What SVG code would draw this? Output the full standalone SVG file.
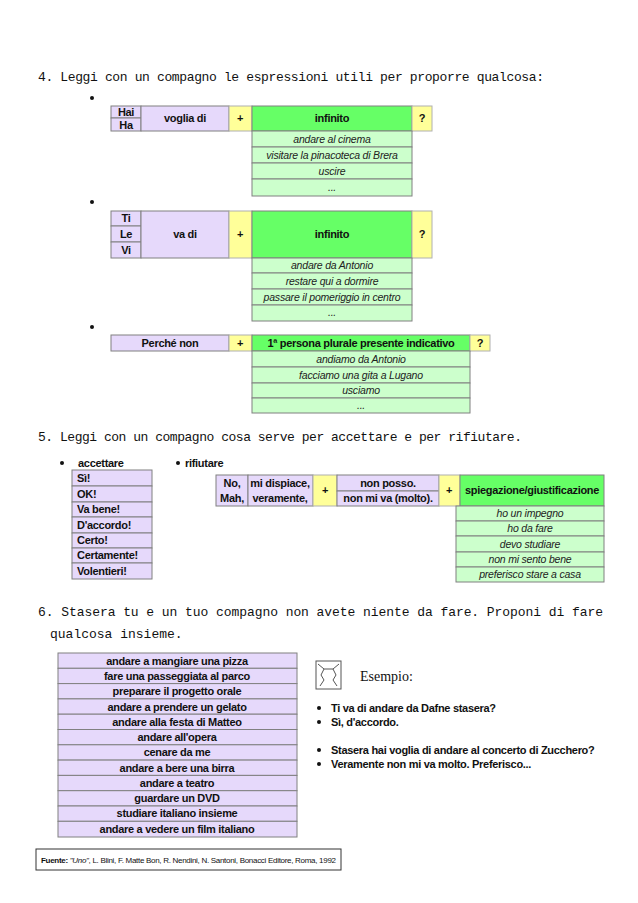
<svg xmlns="http://www.w3.org/2000/svg" width="638" height="903" viewBox="0 0 638 903">
<style>
.t{font-family:"Liberation Mono",monospace;font-size:13px;fill:#111}
.n{font-family:"Liberation Sans",Arial,sans-serif;font-size:11px;font-weight:bold;fill:#111;text-anchor:middle;letter-spacing:-0.3px}
.nl{font-family:"Liberation Sans",Arial,sans-serif;font-size:11px;font-weight:bold;fill:#111;letter-spacing:-0.3px}
.i{font-family:"Liberation Sans",Arial,sans-serif;font-size:10.5px;font-style:italic;fill:#222;text-anchor:middle;letter-spacing:-0.2px}
.l{fill:#e6d9fb;stroke:#808080;stroke-width:1}
.y{fill:#ffff99;stroke:#b0b0b0;stroke-width:1}
.g{fill:#66ff66;stroke:#808080;stroke-width:1}
.lg{fill:#ccffcc;stroke:#808080;stroke-width:1}
</style>
<rect width="638" height="903" fill="#fff"/>
<text class="t" x="38" y="81" textLength="506">4. Leggi con un compagno le espressioni utili per proporre qualcosa:</text>
<circle cx="92" cy="98" r="2" fill="#111"/>
<g id="t4a">
<rect class="l" x="111" y="106" width="30" height="12"/><rect class="l" x="111" y="118" width="30" height="13"/>
<rect class="l" x="141" y="106" width="88" height="25"/><rect class="y" x="229" y="106" width="23" height="25"/>
<rect class="g" x="252" y="106" width="160" height="25"/><rect class="y" x="412" y="106" width="20" height="25"/>
<text class="n" x="126" y="116">Hai</text><text class="n" x="126" y="129">Ha</text>
<text class="n" x="185" y="122">voglia di</text><text class="n" x="240" y="122">+</text>
<text class="n" x="332" y="122">infinito</text><text class="n" x="422" y="122">?</text>
<rect class="lg" x="252" y="131" width="160" height="16"/><rect class="lg" x="252" y="147" width="160" height="16"/>
<rect class="lg" x="252" y="163" width="160" height="16"/><rect class="lg" x="252" y="179" width="160" height="17"/>
<text class="i" x="332" y="143">andare al cinema</text><text class="i" x="332" y="159">visitare la pinacoteca di Brera</text>
<text class="i" x="332" y="175">uscire</text><text class="i" x="332" y="191">...</text>
</g>
<circle cx="92" cy="202" r="2" fill="#111"/>
<g id="t4b">
<rect class="l" x="111" y="211" width="30" height="15"/><rect class="l" x="111" y="226" width="30" height="16"/><rect class="l" x="111" y="242" width="30" height="16"/>
<rect class="l" x="141" y="211" width="88" height="47"/><rect class="y" x="229" y="211" width="23" height="47"/>
<rect class="g" x="252" y="211" width="160" height="47"/><rect class="y" x="412" y="211" width="20" height="47"/>
<text class="n" x="126" y="222">Ti</text><text class="n" x="126" y="238">Le</text><text class="n" x="126" y="254">Vi</text>
<text class="n" x="185" y="238">va di</text><text class="n" x="240" y="238">+</text>
<text class="n" x="332" y="238">infinito</text><text class="n" x="422" y="238">?</text>
<rect class="lg" x="252" y="258" width="160" height="15"/><rect class="lg" x="252" y="273" width="160" height="16"/>
<rect class="lg" x="252" y="289" width="160" height="16"/><rect class="lg" x="252" y="305" width="160" height="16"/>
<text class="i" x="332" y="269">andare da Antonio</text><text class="i" x="332" y="285">restare qui a dormire</text>
<text class="i" x="332" y="301">passare il pomeriggio in centro</text><text class="i" x="332" y="316">...</text>
</g>
<circle cx="92" cy="327" r="2" fill="#111"/>
<g id="t4c">
<rect class="l" x="111" y="335" width="118" height="16"/><rect class="y" x="229" y="335" width="23" height="16"/>
<rect class="g" x="252" y="335" width="218" height="16"/><rect class="y" x="470" y="335" width="20" height="16"/>
<text class="n" x="170" y="347">Perché non</text><text class="n" x="240" y="347">+</text>
<text class="n" x="361" y="347">1ª persona plurale presente indicativo</text><text class="n" x="480" y="347">?</text>
<rect class="lg" x="252" y="351" width="218" height="16"/><rect class="lg" x="252" y="367" width="218" height="16"/>
<rect class="lg" x="252" y="383" width="218" height="15"/><rect class="lg" x="252" y="398" width="218" height="15"/>
<text class="i" x="361" y="363">andiamo da Antonio</text><text class="i" x="361" y="379">facciamo una gita a Lugano</text>
<text class="i" x="361" y="394">usciamo</text><text class="i" x="361" y="409">...</text>
</g>
<text class="t" x="38" y="441" textLength="484">5. Leggi con un compagno cosa serve per accettare e per rifiutare.</text>
<circle cx="62" cy="463" r="2" fill="#111"/><text class="nl" x="78" y="467">accettare</text>
<g id="acc">
<rect class="l" x="72" y="470" width="80" height="16"/><rect class="l" x="72" y="486" width="80" height="16"/>
<rect class="l" x="72" y="502" width="80" height="15"/><rect class="l" x="72" y="517" width="80" height="16"/>
<rect class="l" x="72" y="533" width="80" height="15"/><rect class="l" x="72" y="548" width="80" height="15"/>
<rect class="l" x="72" y="563" width="80" height="16"/>
<text class="nl" x="77" y="482">Sì!</text><text class="nl" x="77" y="498">OK!</text><text class="nl" x="77" y="513">Va bene!</text>
<text class="nl" x="77" y="529">D'accordo!</text><text class="nl" x="77" y="544">Certo!</text>
<text class="nl" x="77" y="559">Certamente!</text><text class="nl" x="77" y="575">Volentieri!</text>
</g>
<circle cx="178" cy="463" r="2" fill="#111"/><text class="nl" x="185" y="467">rifiutare</text>
<g id="rif">
<rect class="l" x="216" y="475" width="32" height="31"/><rect class="l" x="248" y="475" width="65" height="31"/>
<rect class="y" x="313" y="475" width="24" height="31"/>
<rect class="l" x="337" y="475" width="102" height="16"/><rect class="l" x="337" y="491" width="102" height="15"/>
<rect class="y" x="439" y="475" width="21" height="31"/><rect class="g" x="460" y="475" width="144" height="31"/>
<text class="n" x="232" y="487">No,</text><text class="n" x="232" y="502">Mah,</text>
<text class="n" x="280" y="487">mi dispiace,</text><text class="n" x="280" y="502">veramente,</text>
<text class="n" x="325" y="494">+</text><text class="n" x="388" y="487">non posso.</text><text class="n" x="388" y="502">non mi va (molto).</text>
<text class="n" x="449" y="494">+</text><text class="n" x="532" y="494" textLength="134" lengthAdjust="spacingAndGlyphs">spiegazione/giustificazione</text>
<rect class="lg" x="456" y="506" width="148" height="15"/><rect class="lg" x="456" y="521" width="148" height="15"/>
<rect class="lg" x="456" y="536" width="148" height="16"/><rect class="lg" x="456" y="552" width="148" height="15"/>
<rect class="lg" x="456" y="567" width="148" height="15"/>
<text class="i" x="530" y="517">ho un impegno</text><text class="i" x="530" y="532">ho da fare</text>
<text class="i" x="530" y="548">devo studiare</text><text class="i" x="530" y="563">non mi sento bene</text>
<text class="i" x="530" y="578">preferisco stare a casa</text>
</g>
<text class="t" x="38" y="616" textLength="565">6. Stasera tu e un tuo compagno non avete niente da fare. Proponi di fare</text>
<text class="t" x="50" y="638">qualcosa insieme.</text>
<g id="list6">
<rect class="l" x="58" y="653" width="239" height="15.3"/><rect class="l" x="58" y="668.3" width="239" height="15.3"/>
<rect class="l" x="58" y="683.6" width="239" height="15.3"/><rect class="l" x="58" y="698.9" width="239" height="15.3"/>
<rect class="l" x="58" y="714.2" width="239" height="15.3"/><rect class="l" x="58" y="729.5" width="239" height="15.3"/>
<rect class="l" x="58" y="744.8" width="239" height="15.3"/><rect class="l" x="58" y="760.1" width="239" height="15.3"/>
<rect class="l" x="58" y="775.4" width="239" height="15.3"/><rect class="l" x="58" y="790.7" width="239" height="15.3"/>
<rect class="l" x="58" y="806" width="239" height="15.3"/><rect class="l" x="58" y="821.3" width="239" height="15.7"/>
<text class="n" x="177" y="665">andare a mangiare una pizza</text><text class="n" x="177" y="680">fare una passeggiata al parco</text>
<text class="n" x="177" y="695">preparare il progetto orale</text><text class="n" x="177" y="711">andare a prendere un gelato</text>
<text class="n" x="177" y="726">andare alla festa di Matteo</text><text class="n" x="177" y="741">andare all'opera</text>
<text class="n" x="177" y="756">cenare da me</text><text class="n" x="177" y="772">andare a bere una birra</text>
<text class="n" x="177" y="787">andare a teatro</text><text class="n" x="177" y="802">guardare un DVD</text>
<text class="n" x="177" y="817">studiare italiano insieme</text><text class="n" x="177" y="833">andare a vedere un film italiano</text>
</g>
<g id="icon" fill="none" stroke="#555" stroke-width="1">
<rect x="316" y="661" width="25" height="28"/>
<path d="M318 664 l6 5 -3 6 3 5 -4 6 M339 664 l-6 5 3 6 -3 5 4 6 M324 669 h9"/>
</g>
<text class="t" x="360" y="681" style="font-family:'Liberation Serif',serif;font-size:14px">Esempio:</text>
<g id="ex">
<circle cx="319" cy="708" r="2" fill="#111"/><text class="nl" x="331" y="712">Ti va di andare da Dafne stasera?</text>
<circle cx="319" cy="722" r="2" fill="#111"/><text class="nl" x="331" y="726">Sì, d'accordo.</text>
<circle cx="319" cy="750" r="2" fill="#111"/><text class="nl" x="331" y="754">Stasera hai voglia di andare al concerto di Zucchero?</text>
<circle cx="319" cy="764" r="2" fill="#111"/><text class="nl" x="331" y="768">Veramente non mi va molto. Preferisco...</text>
</g>
<rect x="36" y="849" width="305" height="21" fill="none" stroke="#333"/>
<text x="41" y="863" style="font-family:'Liberation Sans',sans-serif;font-size:8px;fill:#111" textLength="295"><tspan font-weight="bold">Fuente: </tspan><tspan font-style="italic">"Uno"</tspan>, L. Blini, F. Matte Bon, R. Nendini, N. Santoni, Bonacci Editore, Roma, 1992</text>
</svg>
